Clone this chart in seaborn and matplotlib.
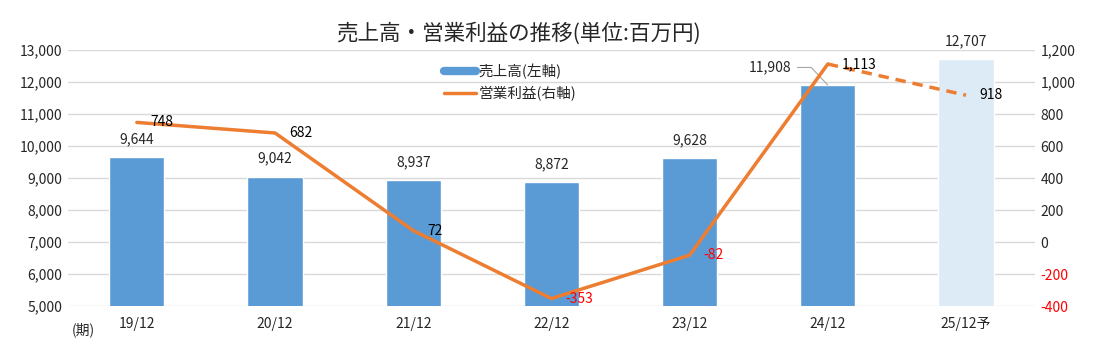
import matplotlib.pyplot as plt
import pandas as pd
import seaborn as sns
from matplotlib.lines import Line2D

periods = ["19/12", "20/12", "21/12", "22/12", "23/12", "24/12", "25/12予"]
sales = [9644, 9042, 8937, 8872, 9628, 11908, 12707]
profit = [748, 682, 72, -353, -82, 1113, 918]
bar_colors = ["#5B9BD5"] * 6 + ["#DDEBF7"]

sns.set_style("white")
plt.rcParams["font.family"] = ["Noto Sans CJK JP", "DejaVu Sans"]

df = pd.DataFrame({"period": periods, "sales": sales, "profit": profit})

fig = plt.figure(figsize=(10.93, 3.53), dpi=100)
ax = fig.add_axes([0.062, 0.133, 0.885, 0.725])

sns.barplot(data=df, x="period", y="sales", hue="period", palette=bar_colors,
            saturation=1, width=0.4, legend=False, ax=ax, zorder=2)
ax.set_ylim(5000, 13000)
ax.set_yticks(range(5000, 13001, 1000))
ax.set_yticklabels([f"{v:,}" for v in range(5000, 13001, 1000)], fontsize=10)
ax.set_xlabel("")
ax.set_ylabel("")
ax.tick_params(axis="x", labelsize=10, length=0, pad=8)
ax.tick_params(axis="y", length=0, pad=4)
ax.grid(axis="y", color="#D9D9D9", lw=1, zorder=0)
for s in ax.spines.values():
    s.set_visible(False)

# bar labels
for i, v in enumerate(sales):
    if i == 5:
        ax.text(i - 0.42, v + 550, f"{v:,}", ha="center", va="center", fontsize=10)
        ax.plot([i - 0.22, i - 0.12, i], [v + 550, v + 550, v], color="#A6A6A6", lw=0.8)
    else:
        ax.text(i, v + 350, f"{v:,}", ha="center", va="bottom", fontsize=10)

ax2 = ax.twinx()
ax2.set_ylim(-400, 1200)
solid = df.iloc[:6].reset_index(drop=True)
solid["x"] = range(6)
dashed = df.iloc[5:].reset_index(drop=True)
dashed["x"] = [5, 6]
sns.lineplot(data=solid, x="x", y="profit", color="#ED7D31", lw=2.5, ax=ax2)
sns.lineplot(data=dashed, x="x", y="profit", color="#ED7D31", lw=2.5,
             linestyle=(0, (3, 2)), ax=ax2)
ax2.set_yticks(range(-400, 1201, 200))
ax2.set_yticklabels([f"{v:,}" for v in range(-400, 1201, 200)], fontsize=10)
for lbl, v in zip(ax2.get_yticklabels(), range(-400, 1201, 200)):
    if v < 0:
        lbl.set_color("red")
ax2.tick_params(axis="y", length=0, pad=4)
ax2.set_xlabel("")
ax2.set_ylabel("")
for s in ax2.spines.values():
    s.set_visible(False)

for i, v in enumerate(profit):
    ax2.text(i + 0.1, v, f"{v:,}", ha="left", va="center", fontsize=10,
             color="red" if v < 0 else "black")

ax.set_xlim(-0.5, 6.5)
ax2.set_xlim(-0.5, 6.5)

# legend
handles = [Line2D([0], [0], color="#5B9BD5", lw=6),
           Line2D([0], [0], color="#ED7D31", lw=2.5)]
ax.legend(handles, ["売上高(左軸)", "営業利益(右軸)"], loc="upper left",
          bbox_to_anchor=(0.375, 1.0), frameon=False, fontsize=10.5,
          handlelength=2.2, handletextpad=0.2, labelspacing=0.5)

fig.text(0.474, 0.905, "売上高・営業利益の推移(単位:百万円)", ha="center", va="center", fontsize=15.5)
fig.text(0.066, 0.065, "(期)", ha="left", va="center", fontsize=10)

fig.savefig("out.png", dpi=100)
